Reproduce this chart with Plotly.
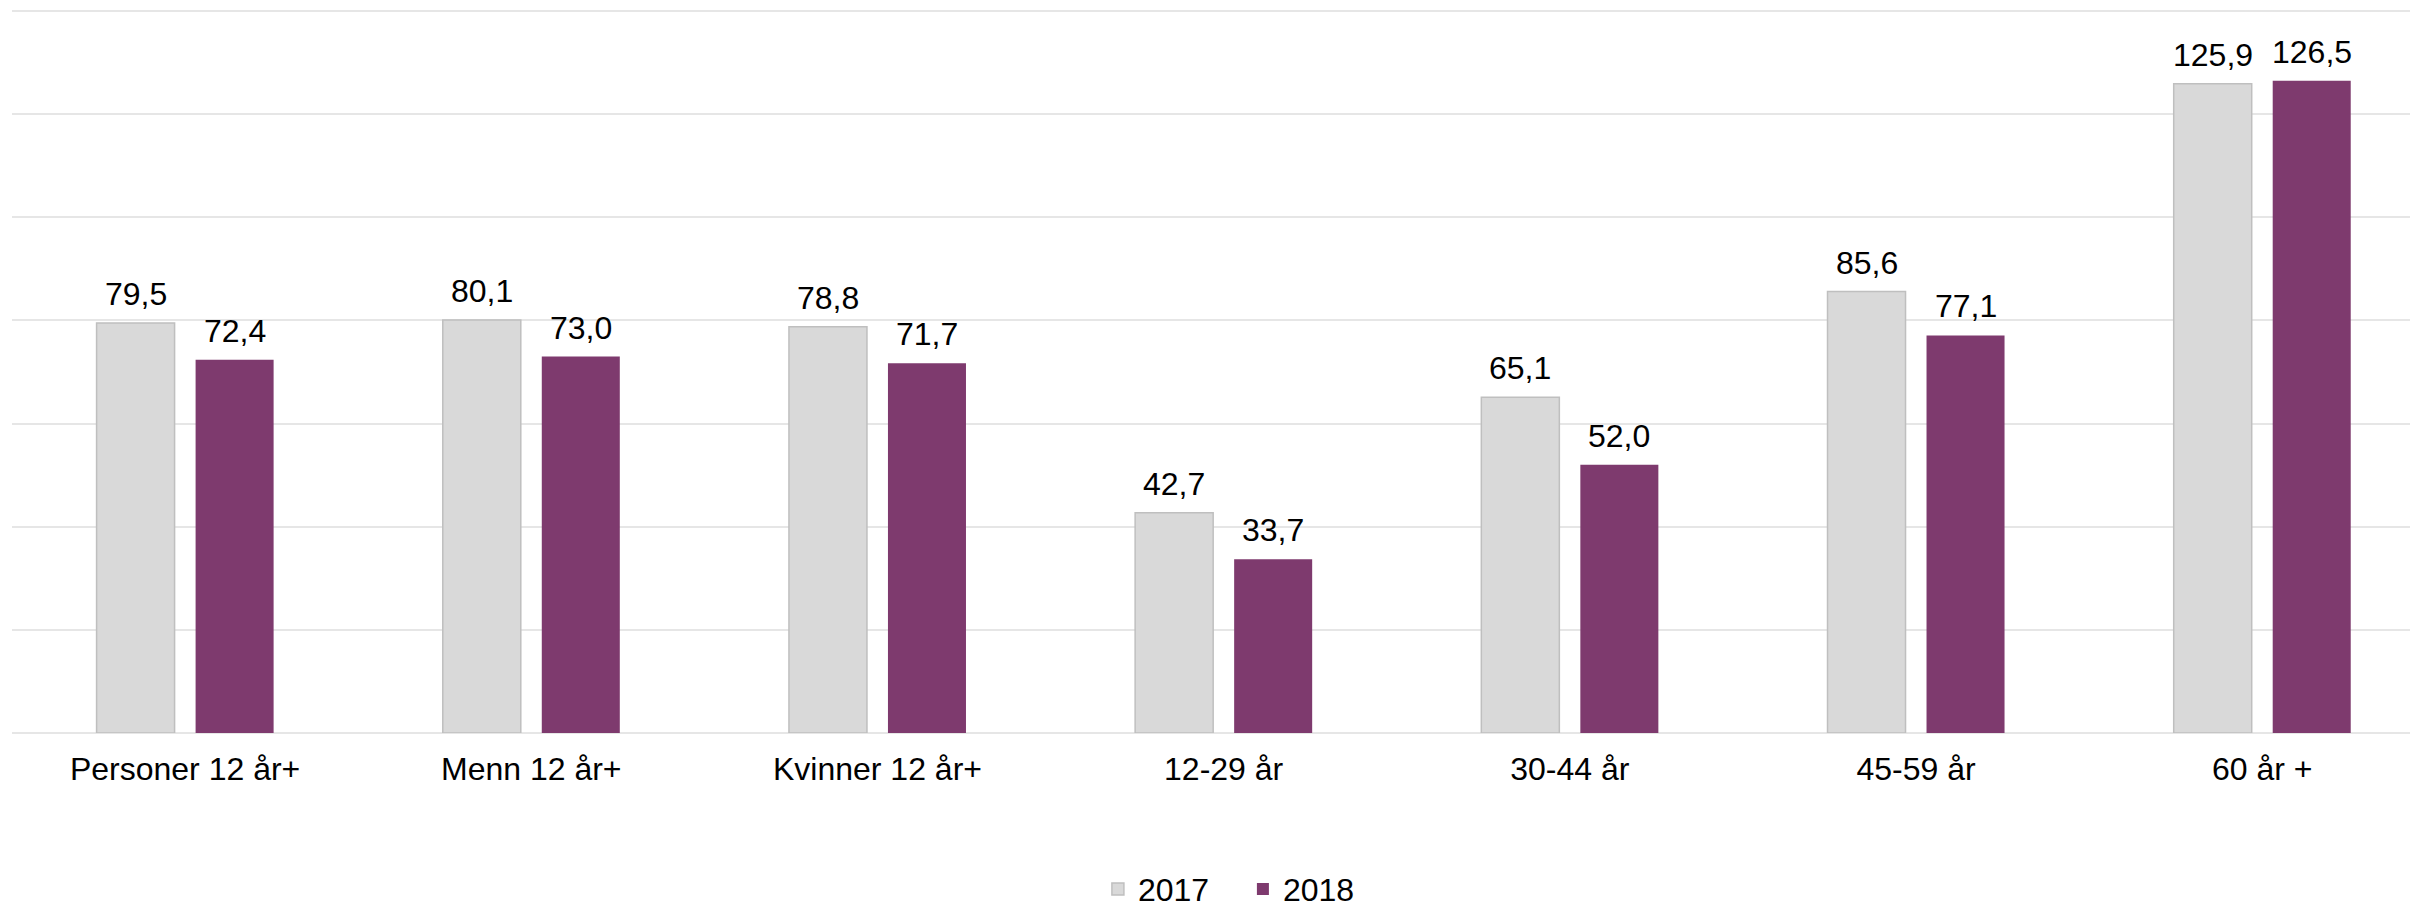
import plotly.graph_objects as go

categories = ["Personer 12 år+", "Menn 12 år+", "Kvinner 12 år+", "12-29 år", "30-44 år", "45-59 år", "60 år +"]
values_2017 = [79.5, 80.1, 78.8, 42.7, 65.1, 85.6, 125.9]
values_2018 = [72.4, 73.0, 71.7, 33.7, 52.0, 77.1, 126.5]

font_name = "Liberation Sans, Arial, sans-serif"
colors = {"2017": "#D9D9D9", "2018": "#7E3A6E"}
edges = {"2017": "#BFBFBF", "2018": "#7E3A6E"}

# bar geometry (pixels) used to place the value labels over each bar
bar_shift = 49.5

fig = go.Figure()
for name, vals in [("2017", values_2017), ("2018", values_2018)]:
    fig.add_trace(go.Bar(x=categories, y=vals, name=name,
                         marker=dict(color=colors[name], line=dict(color=edges[name], width=1.5 if name == "2017" else 0))))

for sign, vals in [(-1, values_2017), (1, values_2018)]:
    for cat, v in zip(categories, vals):
        fig.add_annotation(x=cat, y=v, text=f"{v:.1f}".replace(".", ","), showarrow=False,
                           xshift=sign * bar_shift, yshift=9, yanchor="bottom",
                           font=dict(size=32, color="#000000"))

# page body has an 8px margin, so the figure is kept 8px smaller than the window
fig.update_layout(width=2410, height=902, margin=dict(l=4, r=0, t=2, b=177, autoexpand=False),
                  plot_bgcolor="white", paper_bgcolor="white",
                  font=dict(family=font_name, size=32, color="#000000"),
                  separators=", ", barmode="group", bargap=0.428, bargroupgap=0.212,
                  legend=dict(orientation="h", x=0.5116, xanchor="center", y=-0.216, yanchor="middle",
                              font=dict(size=32), entrywidth=100, entrywidthmode="pixels",
                              traceorder="normal"))
fig.update_xaxes(range=[-0.5, 6.45], showgrid=False, showline=False, ticks="",
                 ticklabelstandoff=14, tickfont=dict(size=32))
fig.update_yaxes(range=[0, 140.2], tickvals=[0, 20, 40, 60, 80, 100, 120, 140], showgrid=True,
                 gridcolor="#E6E6E6", gridwidth=1.5,
                 zeroline=True, zerolinecolor="#E6E6E6", zerolinewidth=1.5,
                 showticklabels=False, ticks="")

fig.write_html("out.html")
